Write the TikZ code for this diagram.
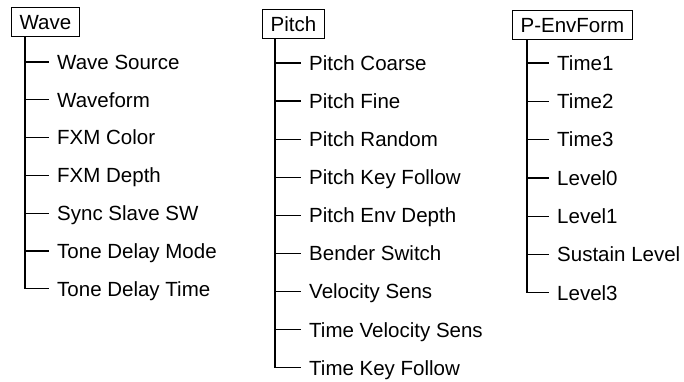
\documentclass[tikz,border=0pt]{standalone}
\usepackage{fontspec}
\setmainfont{Liberation Sans}
\begin{document}
\begin{tikzpicture}[x=1pt,y=-1pt,
  every node/.style={font=\fontsize{20.5}{24}\selectfont},
  hdr/.style={draw, line width=1.2pt, inner xsep=8pt, inner ysep=7.5pt, text height=14.7pt, text depth=0pt, anchor=west},
  item/.style={inner xsep=8pt, inner ysep=0pt, text height=14.7pt, text depth=0pt, anchor=west},
  conn/.style={line width=1.3pt}]
\useasboundingbox (0,0) rectangle (684,382);

% headers
\node[hdr] (wave) at (11,22) {Wave};
\node[hdr] (pitch) at (262,24) {Pitch};
\node[hdr] (env) at (512,25) {P-EnvForm};

% trunk coordinates
\coordinate (wtrunk) at (25,0);
\coordinate (ptrunk) at (275,0);
\coordinate (etrunk) at (527,0);

% Wave items
\foreach \t [count=\i] in {Wave Source, Waveform, FXM Color, FXM Depth, Sync Slave SW, Tone Delay Mode, Tone Delay Time}
  \node[item] (w\i) at (49,{62+37.8*(\i-1)}) {\t};
% Pitch items
\foreach \t [count=\i] in {Pitch Coarse, Pitch Fine, Pitch Random, Pitch Key Follow, Pitch Env Depth, Bender Switch, Velocity Sens, Time Velocity Sens, Time Key Follow}
  \node[item] (p\i) at (301,{63+38.1*(\i-1)}) {\t};
% Env items
\foreach \t [count=\i] in {Time1, Time2, Time3, Level0, Level1, Sustain Level, Level3}
  \node[item] (e\i) at (549,{63+38.3*(\i-1)}) {\t};

% connectors
\foreach \i in {1,...,7}
  \draw[conn] (wave.south -| wtrunk) |- (w\i.west);
\foreach \i in {1,...,9}
  \draw[conn] (pitch.south -| ptrunk) |- (p\i.west);
\foreach \i in {1,...,7}
  \draw[conn] (env.south -| etrunk) |- (e\i.west);
\end{tikzpicture}
\end{document}
